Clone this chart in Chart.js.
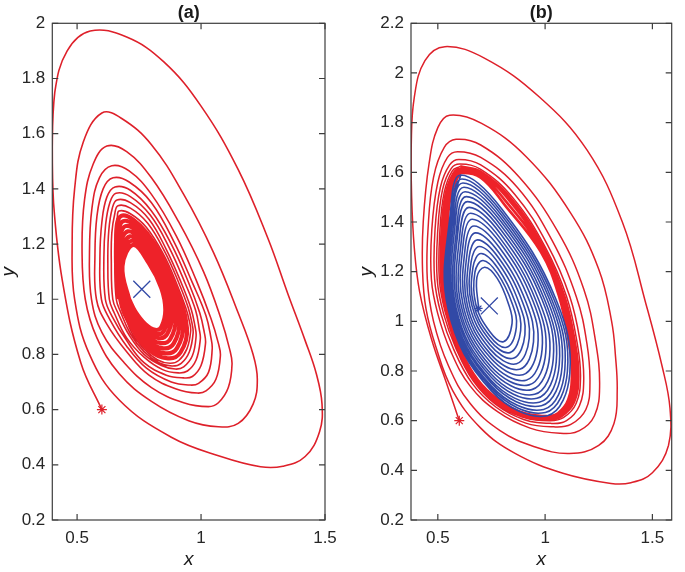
<!DOCTYPE html>
<html><head><meta charset="utf-8">
<script src="https://cdn.jsdelivr.net/npm/chart.js@4.4.1/dist/chart.umd.min.js"></script>
<style>
html,body{margin:0;padding:0;background:#fff;}
#wrap{position:relative;width:685px;height:572px;overflow:hidden;}
#ca{position:absolute;left:0;top:0;}
#cb{position:absolute;left:345px;top:0;}
</style></head><body>
<div id="wrap">
<canvas id="ca" width="345" height="572"></canvas>
<canvas id="cb" width="340" height="572"></canvas>
</div>
<script>
// ---------------- data: panel (a) ----------------
const aXTicks = [0.5, 1, 1.5];
const aYTicks = [0.2,0.4,0.6,0.8,1,1.2,1.4,1.6,1.8,2];
const aStart = [[0.6,0.6]];
const aEquilibrium = [[0.761,1.036]];
const aSpiral = [
[0.6,0.6],[0.515,0.77],[0.44,1.07],[0.405,1.35],[0.40,1.55],[0.41,1.75],[0.46,1.90],[0.553,1.972],[0.70,1.95],[0.85,1.86],[1.00,1.70],[1.15,1.47],[1.27,1.22],[1.35,1.02],[1.42,0.85],[1.465,0.73],[1.488,0.62],[1.478,0.52],[1.42,0.43],[1.33,0.395],[1.24,0.393],[1.08,0.43],[0.88,0.50],[0.67,0.635],[0.55,0.80],
[0.49,1.0],[0.48,1.2],[0.49,1.40],[0.525,1.57],[0.60,1.675],[0.68,1.655],[0.80,1.56],[0.93,1.38],[1.05,1.17],[1.15,0.95],[1.21,0.80],[1.227,0.71],[1.21,0.62],[1.15,0.55],[1.07,0.538],[0.95,0.56],[0.80,0.63],[0.67,0.73],[0.58,0.86],
[0.533,1.0],[0.52,1.18],[0.53,1.36],[0.565,1.49],[0.62,1.555],[0.70,1.535],[0.80,1.44],[0.91,1.28],[1.01,1.10],[1.08,0.93],[1.115,0.82],[1.125,0.765],[1.11,0.68],[1.07,0.625],[1.03,0.611],[0.93,0.625],[0.80,0.68],[0.69,0.77],[0.60,0.88],
[0.558,1.0],[0.55,1.17],[0.56,1.33],[0.59,1.44],[0.64,1.484],[0.71,1.465],[0.80,1.38],[0.90,1.23],[0.98,1.07],[1.04,0.93],[1.07,0.84],[1.078,0.795],[1.06,0.71],[1.02,0.668],[0.985,0.66],[0.90,0.675],[0.79,0.725],[0.70,0.81],[0.62,0.91],
[0.578,1.0],[0.572,1.16],[0.58,1.30],[0.605,1.40],[0.645,1.44],[0.71,1.425],[0.80,1.35],[0.89,1.21],[0.965,1.06],[1.02,0.94],[1.04,0.86],[1.045,0.82],[1.03,0.735],[0.99,0.695],[0.957,0.689],[0.88,0.70],[0.78,0.75],[0.70,0.83],[0.63,0.93],
[0.598,1.0],[0.592,1.15],[0.60,1.28],[0.62,1.37],[0.653,1.407],[0.715,1.395],[0.80,1.32],[0.88,1.20],[0.95,1.06],[0.995,0.95],[1.013,0.88],[1.018,0.84],[1.00,0.76],[0.965,0.72],[0.929,0.715],[0.86,0.725],[0.77,0.77],[0.70,0.85],[0.64,0.94],
[0.614,1.0],[0.608,1.15],[0.615,1.27],[0.632,1.35],[0.657,1.384],[0.715,1.372],[0.795,1.305],[0.87,1.19],[0.935,1.06],[0.978,0.96],[0.993,0.89],[0.997,0.855],[0.98,0.78],[0.945,0.74],[0.908,0.733],[0.845,0.745],[0.77,0.79],[0.70,0.86],[0.65,0.95],
[0.63,1.0],[0.624,1.14],[0.628,1.25],[0.642,1.33],[0.661,1.36],[0.715,1.35],[0.79,1.29],[0.86,1.18],[0.92,1.06],[0.96,0.965],[0.975,0.905],[0.98,0.866],[0.965,0.795],[0.93,0.755],[0.896,0.747],[0.84,0.76],[0.77,0.80],[0.71,0.87],[0.665,0.95],
[0.644,1.0],[0.638,1.14],[0.64,1.24],[0.652,1.31],[0.665,1.339],[0.715,1.33],[0.785,1.275],[0.855,1.17],[0.91,1.06],[0.948,0.97],[0.963,0.915],[0.968,0.877],[0.953,0.81],[0.92,0.768],[0.883,0.758],[0.83,0.77],[0.77,0.81],[0.715,0.875],[0.675,0.955],
[0.658,1.0],[0.652,1.13],[0.653,1.23],[0.662,1.295],[0.669,1.32],[0.715,1.31],[0.78,1.26],[0.85,1.16],[0.90,1.06],[0.938,0.97],[0.953,0.92],[0.958,0.884],[0.943,0.82],[0.91,0.778],[0.875,0.768],[0.825,0.78],[0.77,0.82],[0.72,0.88],[0.685,0.96]
];
const aCore = [
[0.666,1.0],[0.658,1.188],[0.678,1.302],[0.782,1.24],[0.891,1.057],[0.943,0.896],[0.917,0.807],[0.866,0.786],[0.788,0.817],[0.714,0.908],
[0.674,1.0],[0.662,1.176],[0.686,1.283],[0.783,1.221],[0.882,1.054],[0.927,0.907],[0.903,0.823],[0.857,0.804],[0.786,0.833],[0.718,0.917],
[0.681,1.0],[0.667,1.164],[0.695,1.265],[0.785,1.2],[0.873,1.051],[0.912,0.919],[0.89,0.84],[0.848,0.822],[0.783,0.85],[0.721,0.925],
[0.689,1.0],[0.671,1.152],[0.704,1.246],[0.786,1.182],[0.864,1.048],[0.897,0.93],[0.876,0.856],[0.839,0.841],[0.781,0.866],[0.725,0.933],
[0.697,1.0],[0.676,1.14],[0.713,1.228],[0.788,1.163],[0.855,1.045],[0.882,0.942],[0.863,0.873],[0.83,0.859],[0.779,0.883],[0.729,0.941],
[0.704,1.0],[0.679,1.13],[0.72,1.212],[0.789,1.146],[0.847,1.042],[0.868,0.952],[0.851,0.887],[0.822,0.874],[0.777,0.897],[0.732,0.948],
[0.71,1.0],[0.683,1.12],[0.727,1.197],[0.79,1.13],[0.84,1.04],[0.856,0.961],[0.84,0.90],[0.815,0.889],[0.775,0.91],[0.735,0.955],[0.71,1.0]
];

// ---------------- data: panel (b) ----------------
const bXTicks = [0.5, 1, 1.5];
const bYTicks = [0.2,0.4,0.6,0.8,1,1.2,1.4,1.6,1.8,2,2.2];
const bStartRed = [[0.6,0.6]];
const bStartBlue = [[0.69,1.052]];
const bEquilibrium = [[0.74,1.062]];
const bRedSpiral = [
[0.6,0.6],[0.545,0.74],[0.47,0.93],[0.415,1.12],[0.39,1.3],[0.378,1.5],[0.376,1.7],[0.39,1.9],[0.44,2.05],[0.533,2.106],
[0.719,2.059],[0.972,1.904],[1.195,1.69],[1.36,1.40],[1.47,1.07],[1.545,0.82],[1.582,0.65],[1.575,0.50],[1.50,0.39],[1.40,0.35],[1.307,0.347],[1.083,0.388],[0.86,0.468],[0.70,0.57],[0.57,0.72],[0.49,0.90],[0.445,1.05],[0.429,1.20],[0.432,1.40],[0.46,1.64],[0.50,1.78],[0.555,1.83],
[0.704,1.797],[0.912,1.663],[1.12,1.435],[1.25,1.21],[1.31,1.0],[1.328,0.86],[1.336,0.72],[1.321,0.589],[1.25,0.50],[1.113,0.468],[0.95,0.495],[0.79,0.56],[0.65,0.67],[0.55,0.82],[0.48,1.0],[0.451,1.17],[0.455,1.38],[0.48,1.58],[0.53,1.70],[0.585,1.733],
[0.70,1.71],[0.88,1.58],[1.06,1.36],[1.18,1.13],[1.235,0.92],[1.254,0.737],[1.23,0.62],[1.16,0.56],[1.069,0.549],[0.93,0.57],[0.78,0.635],[0.65,0.74],[0.56,0.88],[0.50,1.03],[0.47,1.17],[0.472,1.37],[0.50,1.56],[0.545,1.66],[0.592,1.683],
[0.70,1.66],[0.87,1.54],[1.03,1.33],[1.145,1.10],[1.195,0.91],[1.209,0.75],[1.19,0.645],[1.12,0.585],[1.04,0.575],[0.91,0.59],[0.77,0.655],[0.66,0.75],[0.575,0.885],[0.515,1.03],[0.485,1.17],[0.487,1.37],[0.512,1.54],[0.555,1.63],[0.598,1.652],
[0.70,1.63],[0.86,1.51],[1.01,1.31],[1.115,1.10],[1.165,0.91],[1.18,0.765],[1.16,0.66],[1.10,0.60],[1.03,0.589],[0.90,0.605],[0.77,0.665],[0.665,0.76],[0.585,0.89],[0.527,1.03],[0.497,1.17],[0.50,1.37],[0.522,1.53],[0.562,1.615],[0.603,1.633],
[0.70,1.612],[0.85,1.497],[1.0,1.30],[1.10,1.10],[1.15,0.91],[1.165,0.775],[1.145,0.67],[1.085,0.612],[1.02,0.60],[0.895,0.615],[0.765,0.673],[0.665,0.765],[0.59,0.893],[0.535,1.035],[0.507,1.17],[0.51,1.37],[0.53,1.52],[0.567,1.605],[0.604,1.624]
];
const bRedBand = [
[0.604,1.624],[0.70,1.603],[0.845,1.49],[0.995,1.295],[1.09,1.10],[1.14,0.91],[1.155,0.78],[1.135,0.675],[1.075,0.617],[1.015,0.605],[0.89,0.62],[0.762,0.678],[0.665,0.77],[0.592,0.897],[0.54,1.037],[0.515,1.17],[0.518,1.37],[0.537,1.515],[0.572,1.595],
[0.605,1.614],[0.70,1.594],[0.835,1.485],[0.99,1.29],[1.08,1.10],[1.13,0.91],[1.145,0.785],[1.125,0.68],[1.07,0.622],[1.012,0.61],[0.885,0.625],[0.758,0.685],[0.665,0.775],[0.595,0.9],[0.545,1.04],[0.525,1.17],[0.527,1.37],[0.543,1.51],[0.577,1.585],
[0.606,1.605],[0.70,1.585],[0.825,1.475],[0.985,1.285],[1.072,1.10],[1.12,0.91],[1.135,0.788],[1.115,0.683],[1.065,0.627],[1.01,0.614],[0.88,0.632],[0.755,0.695],[0.665,0.782],[0.597,0.903],[0.55,1.043],[0.535,1.17],[0.537,1.37],[0.55,1.50],[0.582,1.575],
[0.607,1.597],[0.70,1.578],[0.815,1.465],[0.98,1.28],[1.065,1.10],[1.112,0.91],[1.125,0.79],[1.108,0.685],[1.06,0.63],[1.01,0.618],[0.877,0.638],[0.752,0.705],[0.665,0.79],[0.6,0.905],[0.553,1.045],[0.542,1.17],[0.545,1.37],[0.557,1.49],[0.587,1.57],[0.607,1.597]
];
const bBlueSpiral = [
[0.69,1.052],
[0.682,1.177],[0.719,1.218],[0.777,1.173],[0.829,1.071],[0.846,0.992],[0.806,0.918],[0.741,0.960],[0.677,1.069],
[0.673,1.198],[0.711,1.245],[0.778,1.193],[0.846,1.073],[0.866,0.977],[0.821,0.896],[0.741,0.942],[0.667,1.067],
[0.664,1.218],[0.702,1.273],[0.78,1.214],[0.862,1.074],[0.886,0.962],[0.836,0.874],[0.742,0.924],[0.658,1.066],
[0.655,1.238],[0.694,1.301],[0.782,1.235],[0.878,1.075],[0.906,0.947],[0.852,0.851],[0.743,0.906],[0.648,1.065],
[0.646,1.259],[0.686,1.328],[0.784,1.255],[0.895,1.077],[0.926,0.932],[0.867,0.829],[0.743,0.888],[0.638,1.063],
[0.637,1.279],[0.677,1.356],[0.785,1.276],[0.911,1.078],[0.946,0.917],[0.882,0.807],[0.744,0.870],[0.629,1.062],
[0.628,1.299],[0.669,1.384],[0.787,1.297],[0.928,1.080],[0.966,0.902],[0.897,0.785],[0.745,0.853],[0.619,1.060],
[0.619,1.319],[0.661,1.411],[0.789,1.317],[0.944,1.081],[0.986,0.887],[0.912,0.763],[0.746,0.835],[0.610,1.059],
[0.611,1.337],[0.653,1.435],[0.790,1.335],[0.958,1.082],[1.003,0.874],[0.925,0.744],[0.746,0.819],[0.601,1.058],
[0.603,1.354],[0.646,1.459],[0.792,1.353],[0.972,1.083],[1.021,0.861],[0.938,0.725],[0.747,0.804],[0.593,1.057],
[0.595,1.372],[0.639,1.482],[0.793,1.370],[0.987,1.085],[1.038,0.848],[0.951,0.706],[0.747,0.789],[0.585,1.055],
[0.589,1.386],[0.633,1.502],[0.795,1.385],[0.998,1.086],[1.052,0.837],[0.962,0.690],[0.748,0.776],[0.578,1.054],
[0.582,1.401],[0.627,1.522],[0.796,1.400],[1.010,1.087],[1.066,0.827],[0.973,0.674],[0.748,0.763],[0.571,1.053],
[0.576,1.414],[0.622,1.540],[0.797,1.413],[1.021,1.088],[1.079,0.817],[0.983,0.660],[0.749,0.752],[0.565,1.053],
[0.570,1.427],[0.617,1.557],[0.798,1.426],[1.031,1.088],[1.092,0.807],[0.993,0.645],[0.749,0.740],[0.559,1.052],
[0.565,1.438],[0.612,1.573],[0.799,1.438],[1.041,1.089],[1.104,0.799],[1.001,0.633],[0.750,0.730],[0.553,1.051],
[0.56,1.45],[0.607,1.589],[0.80,1.45],[1.05,1.09],[1.115,0.79],[1.01,0.62],[0.75,0.72],[0.548,1.05],[0.56,1.45],[0.607,1.589]
];

// ---------------- drawing ----------------
Chart.defaults.font.family = "'Liberation Sans', Arial, Helvetica, sans-serif";
Chart.defaults.font.size = 17;
Chart.defaults.color = '#262626';

const RED = '#de202a', RED2 = '#ee2229', BLUE = '#3249a6';
const xy = arr => arr.map(p => ({x: p[0], y: p[1]}));
const fmt = v => String(+Number(v).toFixed(2));

function lineSet(arr, color, width){
  return {data: xy(arr), showLine: true, borderColor: color, borderWidth: width,
          pointRadius: 0, tension: 0.4, fill: false};
}
function markSet(arr, style, r, color, w){
  return {data: xy(arr), showLine: false, pointStyle: style, pointRadius: r,
          borderColor: color, backgroundColor: color, pointBorderWidth: w};
}

function framePlugin(c){
  return {
    id: 'frame',
    afterDraw(chart){
      const {ctx, chartArea: a} = chart;
      const xs = chart.scales.x, ys = chart.scales.y;
      ctx.save();
      ctx.strokeStyle = '#3d3d3d'; ctx.lineWidth = 1.2;
      ctx.strokeRect(a.left, a.top, a.right - a.left, a.bottom - a.top);
      const tl = 6;
      ctx.beginPath();
      xs.ticks.forEach(t => { const p = xs.getPixelForValue(t.value);
        ctx.moveTo(p, a.bottom); ctx.lineTo(p, a.bottom - tl);
        ctx.moveTo(p, a.top); ctx.lineTo(p, a.top + tl); });
      ys.ticks.forEach(t => { const p = ys.getPixelForValue(t.value);
        ctx.moveTo(a.left, p); ctx.lineTo(a.left + tl, p);
        ctx.moveTo(a.right, p); ctx.lineTo(a.right - tl, p); });
      ctx.stroke();
      ctx.fillStyle = '#1a1a1a';
      ctx.textAlign = 'center'; ctx.textBaseline = 'middle';
      ctx.font = "bold 18px 'Liberation Sans', Arial, sans-serif";
      ctx.fillText(c.title, (a.left + a.right) / 2, a.top - 10);
      ctx.font = "italic 19px 'Liberation Sans', Arial, sans-serif";
      ctx.fillText('x', (a.left + a.right) / 2, 560);
      ctx.translate(c.yLabelX, (a.top + a.bottom) / 2);
      ctx.rotate(-Math.PI / 2);
      ctx.fillText('y', 0, 0);
      ctx.restore();
    }
  };
}

function makeChart(id, c){
  return new Chart(document.getElementById(id), {
    type: 'scatter',
    data: {datasets: c.datasets},
    options: {
      responsive: false, animation: false, events: [],
      layout: {padding: {left: 0, top: 23.3, right: c.right, bottom: 0}},
      plugins: {legend: {display: false}, tooltip: {enabled: false}},
      scales: {
        x: {type: 'linear', min: c.xmin, max: c.xmax,
            grid: {display: false, drawTicks: false}, border: {display: false},
            ticks: {padding: 8, autoSkip: false, maxRotation: 0, callback: v => fmt(v)},
            afterBuildTicks: s => { s.ticks = c.xticks.map(v => ({value: v})); },
            afterFit: s => { s.height = 52; }},
        y: {type: 'linear', min: c.ymin, max: c.ymax,
            grid: {display: false, drawTicks: false}, border: {display: false},
            ticks: {padding: 7, autoSkip: false, callback: v => fmt(v)},
            afterBuildTicks: s => { s.ticks = c.yticks.map(v => ({value: v})); },
            afterFit: s => { s.width = c.yw; }}
      }
    },
    plugins: [framePlugin(c)]
  });
}

makeChart('ca', {
  title: '(a)', yLabelX: 9, right: 20, yw: 52.3,
  xmin: 0.4, xmax: 1.5, ymin: 0.2, ymax: 2, xticks: aXTicks, yticks: aYTicks,
  datasets: [
    markSet(aEquilibrium, 'crossRot', 12, BLUE, 1.3),
    markSet(aStart, 'star', 5, RED, 1.2),
    lineSet(aCore, RED2, 4.2),
    lineSet(aSpiral, RED, 1.6)
  ]
});

makeChart('cb', {
  title: '(b)', yLabelX: 22, right: 1.5, yw: 66,
  xmin: 0.375, xmax: 1.59, ymin: 0.2, ymax: 2.2, xticks: bXTicks, yticks: bYTicks,
  datasets: [
    markSet(bEquilibrium, 'crossRot', 12, BLUE, 1.3),
    markSet(bStartBlue, 'star', 4, BLUE, 1.2),
    markSet(bStartRed, 'star', 5, RED, 1.2),
    lineSet(bBlueSpiral, BLUE, 1.6),
    lineSet(bRedBand, RED2, 2.6),
    lineSet(bRedSpiral, RED, 1.5)
  ]
});
</script>
</body></html>
